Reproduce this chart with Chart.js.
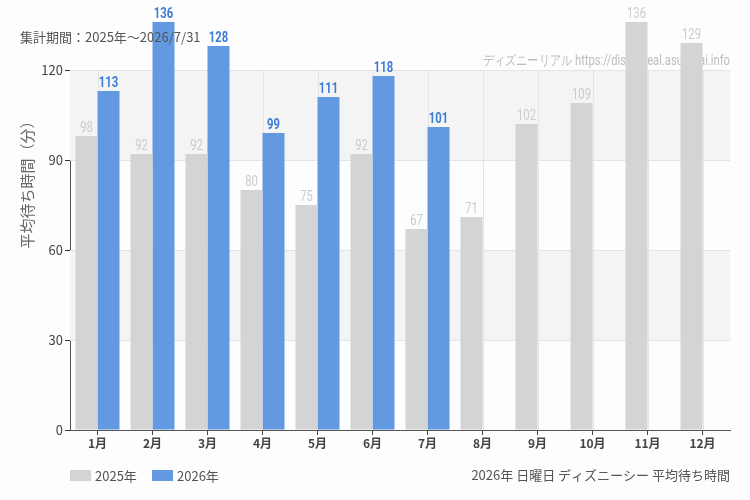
<!DOCTYPE html>
<html>
<head>
<meta charset="utf-8">
<script src="https://cdn.jsdelivr.net/npm/chart.js@4"></script>
<style>
  html, body { margin: 0; padding: 0; background: #fcfdfc; }
  #wrap { width: 750px; height: 500px; }
</style>
</head>
<body>
<div id="wrap"><canvas id="waitChart" width="750" height="500"></canvas></div>
<script>
// months and average waits
const months = ["1月", "2月", "3月", "4月", "5月", "6月", "7月", "8月", "9月", "10月", "11月", "12月"];
const wait2025 = [98, 92, 92, 80, 75, 92, 67, 71, 102, 109, 136, 129];
const wait2026 = [113, 136, 128, 99, 111, 118, 101, null, null, null, null, null];
const yTicks = [0, 30, 60, 90, 120];

const grayBar = "#d4d4d4";
const blueBar = "#6399e1";
const jp = "'Noto Sans CJK JP', 'Noto Sans', sans-serif";

// draw text squeezed horizontally (no condensed font installed)
function narrowText(ctx, text, x, y, squeeze) {
  ctx.save();
  ctx.translate(x, y);
  ctx.scale(squeeze, 1);
  ctx.fillText(text, 0, 0);
  ctx.restore();
}

// striped background bands + texts
const decor = {
  id: "decor",
  beforeDatasetsDraw(chart) {
    let ctx = chart.ctx, a = chart.chartArea, y = chart.scales.y;
    ctx.save();
    ctx.fillStyle = "#f4f4f4";
    [[90, 120], [30, 60]].forEach(b => {
      let top = y.getPixelForValue(b[1]), bot = y.getPixelForValue(b[0]);
      ctx.fillRect(a.left, top, a.right - a.left, bot - top);
    });
    // redraw grid over the bands
    ctx.strokeStyle = "#e4e4e4";
    ctx.lineWidth = 1;
    yTicks.slice(1).forEach(v => {
      let p = Math.round(y.getPixelForValue(v)) + 0.5;
      ctx.beginPath(); ctx.moveTo(a.left, p); ctx.lineTo(a.right, p); ctx.stroke();
    });
    let x = chart.scales.x;
    months.forEach((m, i) => {
      let p = Math.round(x.getPixelForValue(i)) + 0.5;
      ctx.beginPath(); ctx.moveTo(p, a.top); ctx.lineTo(p, a.bottom); ctx.stroke();
    });
    // watermark
    ctx.font = "14px Roboto, sans-serif";
    ctx.fillStyle = "#bdbdbd";
    ctx.textAlign = "right";
    ctx.textBaseline = "alphabetic";
    narrowText(ctx, "ディズニーリアル https://disneyreal.asumirai.info", a.right, 65, 0.8);
    ctx.restore();
  },
  afterDatasetsDraw(chart) {
    let ctx = chart.ctx;
    ctx.save();
    ctx.textAlign = "center";
    ctx.textBaseline = "bottom";
    chart.data.datasets.forEach((ds, di) => {
      let meta = chart.getDatasetMeta(di);
      ctx.font = (di === 0 ? "" : "bold ") + "15px Roboto, sans-serif";
      ctx.fillStyle = di === 0 ? "#cbcbcb" : "#3c7bd6";
      meta.data.forEach((bar, i) => {
        if (ds.data[i] == null) return;
        narrowText(ctx, String(ds.data[i]), bar.x, bar.y, 0.75);
      });
    });
    ctx.restore();
  },
  afterDraw(chart) {
    let ctx = chart.ctx;
    ctx.save();
    ctx.font = "13px " + jp;
    ctx.fillStyle = "#555";
    ctx.textBaseline = "alphabetic";
    ctx.textAlign = "left";
    ctx.fillText("集計期間：2025年～2026/7/31", 20, 42);

    // legend
    let items = [["2025年", grayBar], ["2026年", blueBar]];
    let lx = 70;
    items.forEach(it => {
      ctx.fillStyle = it[1];
      ctx.fillRect(lx, 470, 21, 11);
      ctx.fillStyle = "#555";
      ctx.fillText(it[0], lx + 25, 481);
      lx += 82;
    });

    ctx.textAlign = "right";
    ctx.fillText("2026年 日曜日 ディズニーシー 平均待ち時間", 730, 480);

    // y axis title, sits above the middle like the original
    ctx.translate(27, 181);
    ctx.rotate(-Math.PI / 2);
    ctx.textAlign = "center";
    ctx.textBaseline = "middle";
    ctx.font = "15px " + jp;
    ctx.fillStyle = "#666";
    ctx.fillText("平均待ち時間（分）", 0, 0);
    ctx.restore();
  }
};

new Chart(document.getElementById("waitChart").getContext("2d"), {
  type: "bar",
  data: {
    labels: months,
    datasets: [
      { label: "2025年", data: wait2025, backgroundColor: grayBar, clip: false },
      { label: "2026年", data: wait2026, backgroundColor: blueBar, clip: false }
    ]
  },
  options: {
    responsive: false,
    animation: false,
    devicePixelRatio: 1,
    layout: { padding: { left: 0, right: 20, top: 70, bottom: 0 } },
    categoryPercentage: 0.8,
    barPercentage: 1,
    plugins: { legend: { display: false }, tooltip: { enabled: false } },
    scales: {
      x: {
        grid: { display: true, offset: false, drawOnChartArea: false, tickColor: "#444", tickLength: 5 },
        border: { color: "#555" },
        ticks: { color: "#444", font: { size: 12, weight: "bold", family: jp }, padding: 1 },
        afterFit(s) { s.height = 70; }
      },
      y: {
        min: 0,
        max: 120,
        afterBuildTicks(s) { s.ticks = yTicks.map(v => ({ value: v })); },
        grid: { drawOnChartArea: false, tickColor: "#333", tickLength: 5 },
        border: { color: "#555" },
        ticks: { color: "#444", font: { size: 13, family: jp }, padding: 2 },
        afterFit(s) { s.width = 70; }
      }
    }
  },
  plugins: [decor]
});
</script>
</body>
</html>
